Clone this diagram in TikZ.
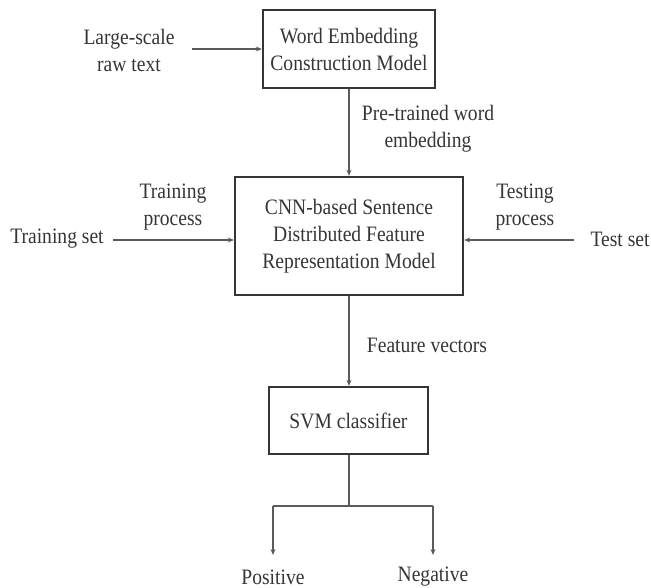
\documentclass[tikz,border=0pt]{standalone}
\usepackage{fontspec}
\setmainfont{Liberation Serif}[FakeStretch=0.89]
\usetikzlibrary{arrows.meta}
\definecolor{ink}{HTML}{353535}
\definecolor{wire}{HTML}{5A5A5A}
\begin{document}
\begin{tikzpicture}[x=1pt,y=-1pt,
  every node/.style={text=ink,font=\fontsize{22}{27}\selectfont,align=center,inner sep=0pt},
  box/.style={draw=ink,line width=2.4pt},
  conn/.style={draw=wire,line width=1.3pt,-{Stealth[length=6pt,width=5pt]}},
  line/.style={draw=wire,line width=1.3pt}]
\useasboundingbox (0,0) rectangle (651,588);
\node[box,minimum width=172pt,minimum height=78pt] (wem) at (349,49) {Word Embedding\\Construction Model};
\node[box,minimum width=228pt,minimum height=118pt] (cnn) at (349,236) {CNN-based Sentence\\Distributed Feature\\Representation Model};
\node[box,minimum width=159pt,minimum height=67pt] (svm) at (348.5,420.5) {SVM classifier};
\node (raw) at (129,50) {Large-scale\\raw text};
\node (pre) at (428,129) {Pre-trained word\\embedding};
\node (trs) at (57,239) {Training set};
\node (trp) at (173,207) {Training\\process};
\node (tes) at (620,239) {Test set};
\node (tep) at (525,207) {Testing\\process};
\node (fv) at (427,345) {Feature vectors};
\node (pos) at (273,577) {Positive};
\node (neg) at (433,577) {Negative};
\coordinate (rawend) at (192,49);
\coordinate (trsend) at (113,240);
\coordinate (tesend) at (574,240);
\coordinate (split) at (349,506);
\coordinate (posj) at (273,506);
\coordinate (negj) at (433,506);
\coordinate (posend) at (273,555);
\coordinate (negend) at (433,555);
\draw[conn] (rawend) -- (wem.west |- rawend);
\draw[conn] (wem.south) -- (cnn.north);
\draw[conn] (trsend) -- (cnn.west |- trsend);
\draw[conn] (tesend) -- (cnn.east |- tesend);
\draw[conn] (cnn.south) -- (svm.north -| cnn.south);
\draw[line] (svm.south -| split) -- (split);
\draw[line] (posj) -- (negj);
\draw[conn] (posj) -- (posend);
\draw[conn] (negj) -- (negend);
\end{tikzpicture}
\end{document}
